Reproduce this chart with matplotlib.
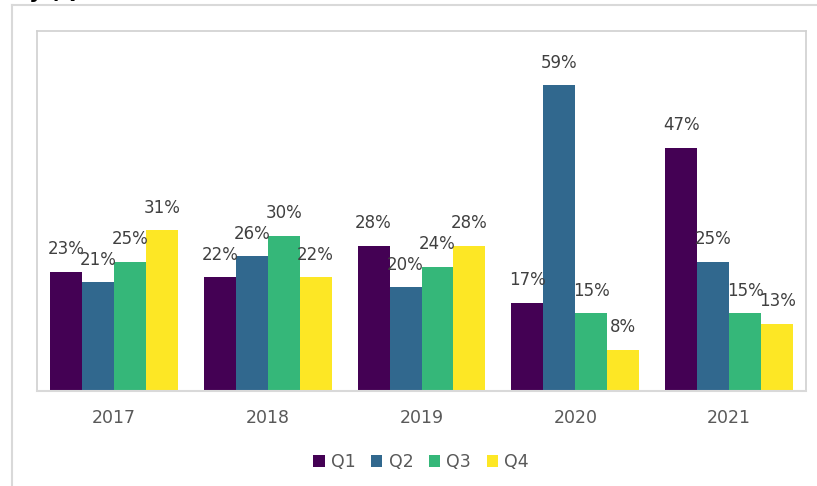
import numpy as np
import matplotlib
matplotlib.use("Agg")
import matplotlib.pyplot as plt
from matplotlib.lines import Line2D

years = ['2017', '2018', '2019', '2020', '2021']
quarters = ['Q1', 'Q2', 'Q3', 'Q4']
q1 = [0.23, 0.22, 0.28, 0.17, 0.47]
q2 = [0.21, 0.26, 0.20, 0.59, 0.25]
q3 = [0.25, 0.30, 0.24, 0.15, 0.15]
q4 = [0.31, 0.22, 0.28, 0.08, 0.13]
colors = ['#440154', '#31688e', '#35b779', '#fde725']

W, H = 817, 486
fig = plt.figure(figsize=(W / 100, H / 100), dpi=100)

# outer frame bits of the slide the chart was cut from
fig.add_artist(Line2D([12 / W, 1], [1 - 5.5 / H, 1 - 5.5 / H], color='#d9d9d9', lw=1.5))
fig.add_artist(Line2D([12 / W, 12 / W], [0, 1 - 5.5 / H], color='#d9d9d9', lw=1.5))
# title sits above the crop, only its descenders show
fig.text(22 / W, 1 + 1.5 / H, 'ly (Q', fontsize=15, fontweight='bold', color='black',
         va='baseline', ha='left')

ax = fig.add_axes([37 / W, (H - 391) / H, 769 / W, 360 / H])

x = np.arange(len(years))
bw = 0.208
series = [q1, q2, q3, q4]
for i, vals in enumerate(series):
    pos = x + (i - 1.5) * bw
    bars = ax.bar(pos, vals, bw, color=colors[i], label=quarters[i], zorder=2)
    for b, v in zip(bars, vals):
        ax.text(b.get_x() + b.get_width() / 2, v + 0.026, f'{v:.0%}',
                ha='center', va='bottom', fontsize=12, color='#404040')

ax.set_xlim(-0.5, 4.5)
ax.set_ylim(0, 0.695)
ax.set_yticks([])
ax.set_xticks(x)
ax.set_xticklabels(years, fontsize=12.5, color='#595959')
ax.tick_params(axis='x', length=0, pad=13)
for s in ax.spines.values():
    s.set_color('#d0d0d0')
    s.set_linewidth(1.2)
ax.spines['bottom'].set_color('#d9d9d9')
ax.spines['bottom'].set_linewidth(1.5)

fig.legend(loc='center', bbox_to_anchor=(421 / W, 1 - 462 / H), ncol=4, frameon=False,
           fontsize=12.5, handlelength=0.65, handleheight=0.65, handletextpad=0.35,
           columnspacing=0.9, labelcolor='#595959')

fig.savefig('out.png', dpi=100)
